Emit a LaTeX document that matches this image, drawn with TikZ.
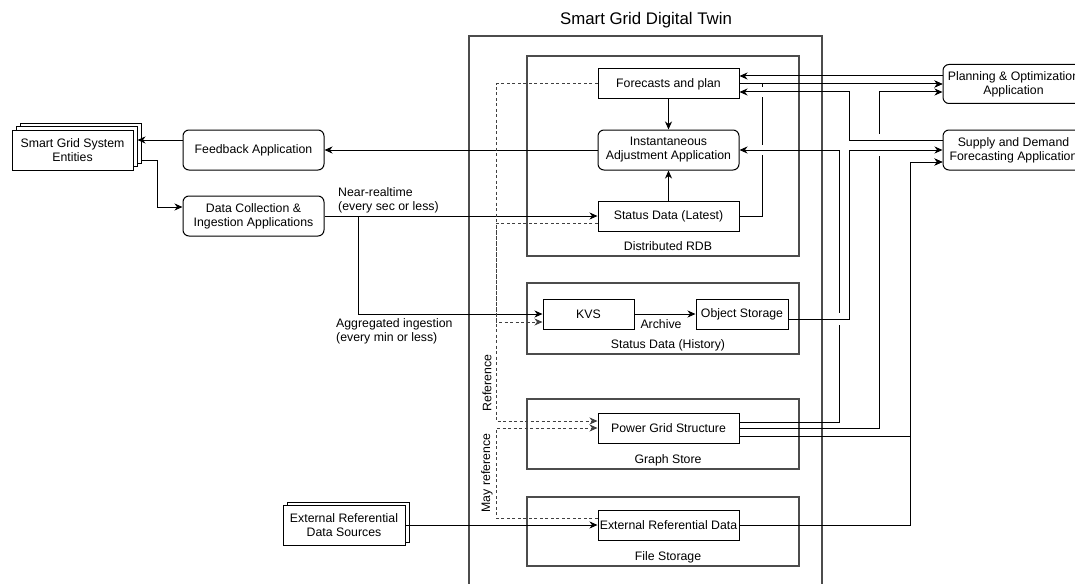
\documentclass[tikz,border=0pt]{standalone}
\usepackage{fontspec}
\setmainfont{Liberation Sans}
\usetikzlibrary{arrows.meta,shadows,calc}
\begin{document}
\begin{tikzpicture}[x=1pt,y=-1pt,
  font=\fontsize{12.3}{14}\selectfont,
  box/.style={draw, line width=1pt, fill=white, minimum width=141pt, minimum height=30pt, inner sep=0pt, align=center},
  rbox/.style={box, rounded corners=6pt, minimum height=40pt},
  cont/.style={draw=black!70, line width=1.2pt},
  lbl/.style={inner sep=0pt, align=center},
  ln/.style={line width=1pt},
  arr/.style={line width=1pt, -{Stealth[length=8pt,width=7pt,inset=2.5pt]}},
  dsh/.style={arr, draw=black!75, dash pattern=on 3pt off 2.5pt},
]
\useasboundingbox (0,0) rectangle (1075,583);
\clip (0,0) rectangle (1075,583);

% title and containers
\node[font=\fontsize{16.8}{18}\selectfont] (title) at (646,20) {Smart Grid Digital Twin};
\draw[cont] (469,600) -- (469,36) -- (822,36) -- (822,600);
\draw[cont] (527,56) rectangle (799,256);
\node[lbl] (rdbl) at (668,246) {Distributed RDB};
\draw[cont] (527,283) rectangle (799,354);
\node[lbl] (hisl) at (668,345) {Status Data (History)};
\draw[cont] (527,399) rectangle (799,469);
\node[lbl] (gsl) at (668,460) {Graph Store};
\draw[cont] (527,497) rectangle (799,566);
\node[lbl] (fsl) at (668,557) {File Storage};

% nodes
\node[box] (fc) at (668.5,84) {Forecasts and plan};
\node[rbox] (inst) at (668.5,150) {Instantaneous\\Adjustment Application};
\node[box] (sl) at (668.5,216) {Status Data (Latest)};
\node[box, minimum width=91pt] (kvs) at (588.5,314) {KVS};
\node[box, minimum width=92pt] (os) at (742,314) {Object Storage};
\node[box] (pgs) at (668.5,428) {Power Grid Structure};
\node[box] (erd) at (668.5,525) {External Referential Data};

\node[box, minimum width=121pt, minimum height=40pt,
      double copy shadow={shadow xshift=4pt, shadow yshift=3.5pt}] (sgse) at (72.5,150) {Smart Grid System\\Entities};
\node[rbox] (fb) at (253.5,150) {Feedback Application};
\node[rbox] (dc) at (253.5,216) {Data Collection \&\\Ingestion Applications};
\node[box, minimum width=122pt, minimum height=40pt,
      copy shadow={shadow xshift=4pt, shadow yshift=3pt}] (erds) at (344,525) {External Referential\\Data Sources};

\node[rbox, minimum height=39pt] (pl) at (1013.5,84) {Planning \& Optimization\\Application};
\node[rbox] (sd) at (1013.5,150) {Supply and Demand\\Forecasting Application};

% left side connectors
\draw[arr] (fc) -- (inst);
\draw[arr] (sl) -- (inst);
\draw[arr] (inst) -- (fb);
\draw[arr] ([yshift=10pt]fb.west) -- ([xshift=4pt,yshift=10pt]sgse.east);
\draw[arr] ([xshift=8pt,yshift=-10pt]sgse.east) -- (157,160) |- ([yshift=9pt]dc.west);
\draw[arr] (dc.east) -- (sl.west);
\coordinate (agg) at (358,216);
\draw[arr] (agg) |- (kvs.west);
\draw[arr] (kvs) -- (os);
\draw[arr] (erds) -- (erd);

\node[lbl, anchor=west, align=left] (nrt) at (338,200) {Near-realtime\\(every sec or less)};
\node[lbl, anchor=west, align=left] (agl) at (336,331) {Aggregated ingestion\\(every min or less)};
\node[lbl] (arch) at (661,324) {Archive};

% dashed references
\draw[dsh] (fc.west) -- (496,84) |- ([yshift=7pt]pgs.west);
\draw[dsh] ([yshift=-7pt]sl.west) -- (496,223) |- ([yshift=-8pt]kvs.west);
\draw[dsh] ([yshift=7pt]erd.west) -- (496,518) |- (pgs.west);
\node[lbl, rotate=90] (refl) at (487,383) {Reference};
\node[lbl, rotate=90] (mrefl) at (487,473) {May reference};

% right side connectors
\draw[arr] ([yshift=8pt]pl.west) -- ([yshift=8pt]fc.east);
\draw[arr] (fc.east) -- (pl.west);
\draw[arr] (sl.east) -| (762,84) -- (pl.west);
\draw[arr] (pgs.east) -| (879,92) -- ([yshift=-8pt]pl.west);
\fill[white] (760,87) rectangle (764,97);
\fill[white] (760,145) rectangle (764,155);
\fill[white] (877,134) rectangle (881,156);
\draw[arr] ([yshift=6pt]pgs.east) -| (839,150) -- (inst.east);
\fill[white] (837,313) rectangle (841,325);
\draw[arr] ([yshift=-5pt]os.east) -| (849,150) -- (sd.west);
\draw[arr] ([yshift=10pt]sd.west) -| (849,92) -- ([yshift=-8pt]fc.east);
\draw[arr] ([yshift=-8pt]pgs.east) -| (910,162) -- ([yshift=-12pt]sd.west);
\draw[arr] (erd.east) -| (910,162) -- ([yshift=-12pt]sd.west);
\end{tikzpicture}
\end{document}
